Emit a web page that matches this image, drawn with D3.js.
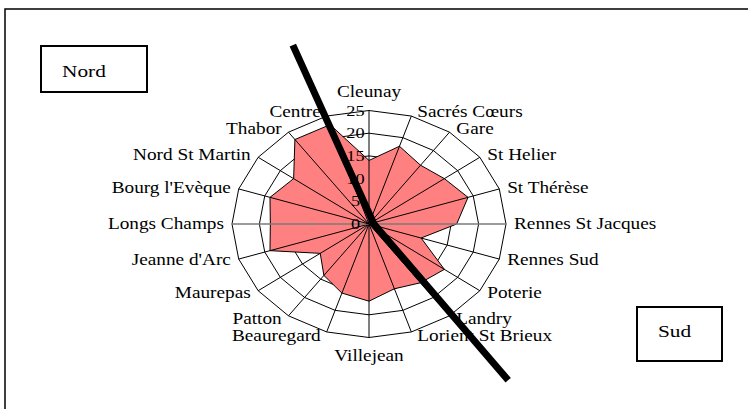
<!DOCTYPE html>
<html>
  <head>
    <meta charset="utf-8">
    <script src="https://d3js.org/d3.v7.min.js"></script>
    <title>Radar Nord / Sud</title>
    <style>
      body { margin: 0; background: #fff; }
      text { font-family: "Times New Roman", "Liberation Serif", serif; fill: #000; }
      .cat { font-size: 15.8px; }
      .tick { font-size: 15px; }
      .zone { font-size: 17.5px; }
    </style>
  </head>
  <body>
    <svg width="748" height="409"></svg>
    <script>
      // quartiers, clockwise from the top
      const categories = ['Cleunay', 'Sacrés Cœurs', 'Gare', 'St Helier', 'St Thérèse',
        'Rennes St Jacques', 'Rennes Sud', 'Poterie', 'Landry', 'Lorient St Brieux',
        'Villejean', 'Beauregard', 'Patton', 'Maurepas', "Jeanne d'Arc",
        'Longs Champs', "Bourg l'Evèque", 'Nord St Martin', 'Thabor', 'Centre'];
      const values = [14, 18, 16, 17, 19, 16, 10, 17, 16, 15,
        17, 16, 14, 11, 19, 18, 19, 17, 23, 23];
      const tickValues = [0, 5, 10, 15, 20, 25];
      // dividing line, in axis units (x right, y up)
      const divider = [[-13.9, 39.4], [0.9, 0], [25.4, -34.4]];

      const svg = d3.select('svg');
      const cx = 369, cy = 224;
      const sx = 1.22; // the picture is stretched sideways
      const maxV = 25;

      const rx = d3.scaleLinear().domain([0, maxV]).range([0, 137]);
      const ry = d3.scaleLinear().domain([0, maxV]).range([0, 113.5]);
      const n = categories.length;
      const angle = i => i * 2 * Math.PI / n;
      const px = (i, v) => cx + rx(v) * Math.sin(angle(i));
      const py = (i, v) => cy - ry(v) * Math.cos(angle(i));

      // frame
      svg.append('rect')
        .attr('x', 5).attr('y', 9)
        .attr('width', 760).attr('height', 420)
        .attr('fill', 'none').attr('stroke', '#000').attr('stroke-width', 1.5);

      const g = svg.append('g');

      // rings
      const ring = d3.line().curve(d3.curveLinearClosed);
      g.selectAll('.ring').data(tickValues.slice(1))
        .enter().append('path')
          .attr('class', 'ring')
          .attr('d', t => ring(d3.range(n).map(i => [px(i, t), py(i, t)])))
          .attr('fill', 'none')
          .attr('stroke', '#000')
          .attr('stroke-width', 1);

      // series
      g.append('path')
        .datum(values)
        .attr('d', vs => ring(vs.map((v, i) => [px(i, v), py(i, v)])))
        .attr('fill', '#ff8080')
        .attr('stroke', '#000')
        .attr('stroke-width', 1);

      // spokes
      g.selectAll('.spoke').data(d3.range(n))
        .enter().append('line')
          .attr('class', 'spoke')
          .attr('x1', cx).attr('y1', cy)
          .attr('x2', i => px(i, maxV))
          .attr('y2', i => py(i, maxV))
          .attr('stroke', i => (i === 5 || i === 15) ? '#7a7a7a' : '#000')
          .attr('stroke-width', i => (i === 5 || i === 15) ? 1.4 : 1);

      // value labels on the top axis
      g.selectAll('.tick').data(tickValues)
        .enter().append('text')
          .attr('class', 'tick')
          .attr('text-anchor', 'middle')
          .attr('transform', t => `translate(${cx - 13.5},${cy - ry(t) + 5}) scale(${sx},1)`)
          .text(t => t);

      // category labels
      g.selectAll('.cat').data(categories)
        .enter().append('text')
          .attr('class', 'cat')
          .attr('text-anchor', (d, i) => {
            const s = Math.sin(angle(i));
            return s > 0.01 ? 'start' : (s < -0.01 ? 'end' : 'middle');
          })
          .attr('transform', (d, i) => {
            const s = Math.sin(angle(i)), c = Math.cos(angle(i));
            let x = px(i, maxV), y = py(i, maxV);
            if (Math.abs(s) < 0.01) {
              y += c > 0 ? -14 : 23;
            } else {
              x += Math.sign(s) * (5 + 3 * Math.abs(s));
              y += 5 - 4 * c;
            }
            return `translate(${x},${y}) scale(${sx},1)`;
          })
          .text(d => d);

      // dividing line
      const dx = d3.scaleLinear().domain([0, maxV]).range([cx, cx + rx(maxV)]);
      const dy = d3.scaleLinear().domain([0, maxV]).range([cy, cy - ry(maxV)]);
      svg.append('path')
        .attr('d', d3.line().x(d => dx(d[0])).y(d => dy(d[1]))(divider))
        .attr('fill', 'none')
        .attr('stroke', '#000')
        .attr('stroke-width', 7)
        .attr('stroke-linejoin', 'miter');

      // zone boxes
      const zones = [
        {name: 'Nord', x: 41, y: 46, w: 106, h: 46, base: 31},
        {name: 'Sud', x: 637, y: 307, w: 85, h: 54, base: 30}
      ];
      const zg = svg.selectAll('.zone-g').data(zones)
        .enter().append('g')
          .attr('transform', d => `translate(${d.x},${d.y})`);
      zg.append('rect')
        .attr('width', d => d.w).attr('height', d => d.h)
        .attr('fill', '#fff').attr('stroke', '#000').attr('stroke-width', 2);
      zg.append('text')
        .attr('class', 'zone')
        .attr('transform', d => `translate(21,${d.base}) scale(${sx},1)`)
        .text(d => d.name);
    </script>
  </body>
</html>
